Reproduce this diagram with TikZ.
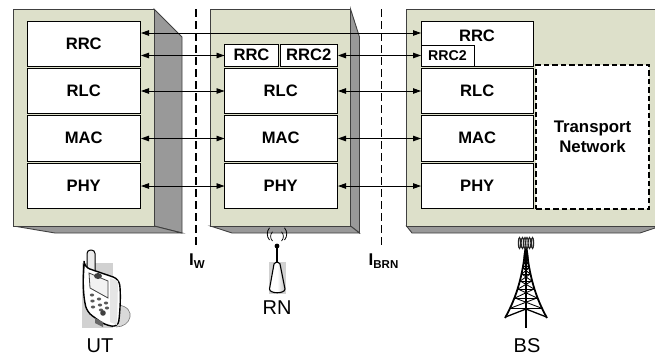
\documentclass[tikz,border=0pt]{standalone}
\usepackage{fontspec}
\setmainfont{Liberation Sans}
\usetikzlibrary{arrows.meta}
\definecolor{face}{RGB}{221,224,202}
\definecolor{side}{RGB}{153,153,153}
\definecolor{edge}{RGB}{64,64,64}
\tikzset{
  blockface/.style={fill=face,draw=edge,line width=.9pt,line join=miter},
  blockside/.style={fill=side,draw=edge,line width=.9pt,line join=miter},
  layerbox/.style={draw=black,fill=white,line width=.9pt,inner sep=0pt,outer sep=0pt,font=\fontsize{16.6}{19}\selectfont\bfseries},
  smallbox/.style={layerbox,font=\fontsize{15.5}{19}\selectfont\bfseries},
  peer/.style={line width=.85pt,black,{Triangle[length=8pt,width=5.5pt]}-{Triangle[length=8pt,width=5.5pt]}},
  iface/.style={line width=1.7pt,black,dash pattern=on 8pt off 4pt},
  ilabel/.style={inner sep=0pt,anchor=base west,font=\fontsize{17}{19}\selectfont\bfseries},
  devname/.style={inner sep=0pt,font=\fontsize{20}{22}\selectfont},
}
\newcommand{\subtxt}[1]{{\fontsize{11.5}{12}\selectfont\raisebox{-3pt}{#1}}}
% name, x1, y1, x2, y2, text
\newcommand{\pbox}[7][layerbox]{%
  \node[#1,minimum width={(#5-#3)*1pt},minimum height={(#6-#4)*1pt}] (#2) at ({(#3+#5)/2},{(#4+#6)/2}) {#7};}
\begin{document}
\begin{tikzpicture}[x=1pt,y=-1pt]
\useasboundingbox (0,0) rectangle (655,356);
% UT block
\draw[blockside] (154,9) -- (182,37) -- (182,233) -- (154,226) -- cycle;
\draw[blockside] (13.5,226) -- (55,233) -- (182,233) -- (154,226) -- cycle;
\draw[blockface] (13.5,9) rectangle (154,226);
% RN block
\draw[blockside] (350.5,9) -- (359.5,37) -- (359.5,233) -- (350.5,226) -- cycle;
\draw[blockside] (210.5,226) -- (232,233) -- (359.5,233) -- (350.5,226) -- cycle;
\draw[blockface] (210.5,9) rectangle (350.5,226);
% BS block
\draw[blockside] (406.5,226) -- (412,233) -- (640,233) -- (655,228) -- (655,226) -- cycle;
\draw[blockface] (406.5,9) -- (655.5,9) -- (655.5,226) -- (406.5,226) -- cycle;
% UT layers
\pbox{urrc}{27.5}{21.5}{140}{66.5}{RRC}
\pbox{urlc}{27.5}{68.5}{140}{113.5}{RLC}
\pbox{umac}{27.5}{115.5}{140}{161}{MAC}
\pbox{uphy}{27.5}{163}{140}{208}{PHY}
% RN layers
\pbox{nrrc}{224.5}{44}{278.5}{66.5}{RRC}
\pbox{nrrcb}{280.5}{44}{337}{66.5}{RRC2}
\pbox{nrlc}{224.5}{68.5}{337}{113.5}{RLC}
\pbox{nmac}{224.5}{115.5}{337}{161}{MAC}
\pbox{nphy}{224.5}{163}{337}{208}{PHY}
% BS layers
\pbox{brrc}{421}{21.5}{533.5}{66.5}{}
\node[inner sep=0pt,font=\fontsize{16.6}{19}\selectfont\bfseries] (brrct) at (477,36) {RRC};
\pbox[smallbox]{brrcb}{421}{45}{474}{66.5}{\fontsize{14.2}{17}\selectfont RRC2}
\pbox{brlc}{421}{68.5}{533.5}{113.5}{RLC}
\pbox{bmac}{421}{115.5}{533.5}{161}{MAC}
\pbox{bphy}{421}{163}{533.5}{208}{PHY}
\node[draw=black,fill=white,line width=1.3pt,dash pattern=on 5.5pt off 3pt,inner sep=0pt,outer sep=0pt,
  minimum width=113pt,minimum height=144pt,align=center,font=\fontsize{16.8}{19.5}\selectfont\bfseries] (tnet) at (592.5,137) {Transport\\Network};
% interface lines
\coordinate (wtop) at (196,9);
\coordinate (wbot) at (196,248);
\coordinate (btop) at (381.5,9);
\coordinate (bbot) at (381.5,248);
\draw[iface] (wtop) -- (wbot);
\draw[iface] (btop) -- (bbot);
% peer arrows
\coordinate (la) at (0,33);
\coordinate (lb) at (0,55.5);
\coordinate (lc) at (0,91);
\coordinate (ld) at (0,138.5);
\coordinate (le) at (0,186);
\draw[peer] ([xshift=1pt]urrc.east |- la) -- (brrc.west |- la);
\draw[peer] ([xshift=1pt]urrc.east |- lb) -- (nrrc.west |- lb);
\draw[peer] ([xshift=1pt]nrrcb.east |- lb) -- (brrcb.west |- lb);
\draw[peer] ([xshift=1pt]urlc.east |- lc) -- (nrlc.west |- lc);
\draw[peer] ([xshift=1pt]nrlc.east |- lc) -- (brlc.west |- lc);
\draw[peer] ([xshift=1pt]umac.east |- ld) -- (nmac.west |- ld);
\draw[peer] ([xshift=1pt]nmac.east |- ld) -- (bmac.west |- ld);
\draw[peer] ([xshift=1pt]uphy.east |- le) -- (nphy.west |- le);
\draw[peer] ([xshift=1pt]nphy.east |- le) -- (bphy.west |- le);
% interface labels
\node[ilabel] (iw) at (189,265) {I\subtxt{W}};
\node[ilabel] (ibrn) at (368.5,265) {I\subtxt{BRN}};
% device names
\node[devname] (ut) at (100,346) {UT};
\node[devname] (rn) at (277,308) {RN};
\node[devname] (bs) at (527,345.5) {BS};
% --- phone
\fill[black!18] (82,263) rectangle (113,328);
\fill[black!15] (118,305) .. controls (128,306) and (131,312) .. (130,317) .. controls (129,323) and (123,327) .. (113,327) -- cycle;
\draw[black!55,line width=.6pt] (118,305) .. controls (128,306) and (131,312) .. (130,317) .. controls (129,323) and (123,327) .. (116,327);
\draw[black,fill=black!8,line width=1pt,rounded corners=3.5pt] (87,268) -- (87,250) -- (95,250) -- (95,271);
\draw[black,fill=white,line width=1.4pt,rounded corners=6pt] (84,267) -- (119,279) .. controls (121,295) and (120,312) .. (118,327) -- (105,325) -- (87,312) .. controls (83,295) and (83,280) .. (84,267) -- cycle;
\fill[black!10] (110,278) -- (118,281) -- (117,325) -- (110,322) -- cycle;
\draw[black!75,fill=black!5,line width=.8pt] (89,273) -- (108,281) -- (108,298) -- (90,288) -- cycle;
\fill[black!75] (98,276) ellipse (4pt and 3pt);
\foreach \bx/\by in {92/295,92.5/301,93/307,99/299,100/305,101/310,106/303,107/308}{
  \fill[black!65] (\bx,\by) ellipse (2.2pt and 1.5pt);}
\fill[black!75] (103,313) circle (2.8pt);
\fill[black!60] (95,318) -- (103,322) -- (103,327) -- (95,323) -- cycle;
% --- relay antenna
\fill[black!18] (269,262) rectangle (286,294);
\draw[black,line width=1.2pt] (277,246) -- (277,263);
\fill[black] (277,246) circle (2.4pt);
\draw[black,line width=.7pt] (272.5,241) arc (135:225:6.5);
\draw[black,line width=.7pt] (281.5,241) arc (45:-45:6.5);
\draw[black,line width=.8pt] (269.5,240) arc (140:220:9.5);
\draw[black,line width=.8pt] (284.5,240) arc (40:-40:9.5);
\draw[black,line width=1.1pt,left color=white,right color=black!25,middle color=white] (274,264) .. controls (276,261.5) and (278,261.5) .. (280,264) -- (285,289) .. controls (285,294) and (269.5,294) .. (269.5,289) -- cycle;
% --- tower
\fill[black] (524.5,248) -- (527.5,248) -- (528.5,258) -- (523.5,258) -- cycle;
\foreach \hx/\hr in {519.5/1.2,522.5/1.4,525/1.4,527/1.4,529.5/1.4,532.5/1.2}{
  \draw[black!85,line width=1.1pt,fill=black!15] (\hx,243) ellipse ({\hr pt} and 5.5pt);}
\draw[black,line width=1.8pt] (525,252) .. controls (522,280) and (515,300) .. (505,318);
\draw[black,line width=1.8pt] (527,252) .. controls (530,280) and (537,300) .. (547,318);
\draw[black,line width=1.5pt] (526,252) -- (526,328);
\draw[black,line width=1.3pt] (505.5,317) -- (526,309) -- (546.5,317);
\foreach \ya/\wa/\yb/\wb in {258/1.2/263/2,263/2/268/3,268/3/274/4.2,274/4.2/281/5.8,281/5.8/289/8,289/8/298/11,298/11/308/15}{
  \draw[black,line width=.85pt] (526-\wa,\ya) -- (526+\wb,\yb);
  \draw[black,line width=.85pt] (526+\wa,\ya) -- (526-\wb,\yb);
  \draw[black,line width=.7pt] (526-\wb,\yb) -- (526+\wb,\yb);
}
\end{tikzpicture}
\end{document}
